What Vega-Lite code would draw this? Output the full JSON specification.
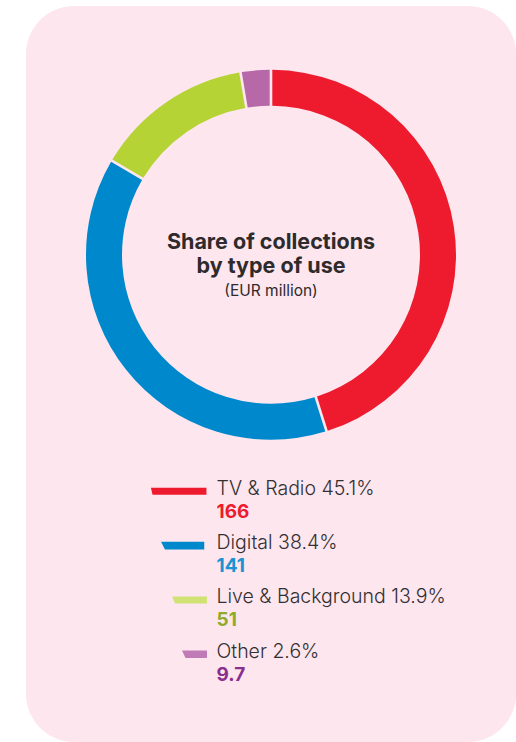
{
  "$schema": "https://vega.github.io/schema/vega-lite/v6.json",
  "width": 516,
  "height": 742,
  "autosize": {"type": "fit", "contains": "padding"},
  "padding": {"left": 26, "top": 6, "right": 0, "bottom": 0},
  "background": "white",
  "view": {"fill": "#fde6ee", "stroke": null, "cornerRadius": 48},
  "config": {"font": "Inter"},
  "datasets": {
    "shares": [
      {"use": "TV & Radio", "label": "TV & Radio 45.1%", "pct": 45.1, "eur": 166, "value": "166", "rank": 1},
      {"use": "Digital", "label": "Digital 38.4%", "pct": 38.4, "eur": 141, "value": "141", "rank": 2},
      {"use": "Live & Background", "label": "Live & Background 13.9%", "pct": 13.9, "eur": 51, "value": "51", "rank": 3},
      {"use": "Other", "label": "Other 2.6%", "pct": 2.6, "eur": 9.7, "value": "9.7", "rank": 4}
    ],
    "heading": [
      {"line1": "Share of collections", "line2": "by type of use", "unit": "(EUR million)"}
    ]
  },
  "data": {"name": "shares"},
  "resolve": {"scale": {"color": "independent"}},
  "layer": [
    {
      "mark": {"type": "arc", "outerRadius": 185, "innerRadius": 149, "padAngle": 0.011},
      "encoding": {
        "theta": {"field": "eur", "type": "quantitative", "stack": true},
        "order": {"field": "rank", "type": "quantitative"},
        "color": {
          "field": "use", "type": "nominal", "legend": null,
          "scale": {"domain": ["TV & Radio", "Digital", "Live & Background", "Other"], "range": ["#ee1b2e", "#0088cc", "#b5d334", "#b768a9"]}
        },
        "x": {"datum": 0, "type": "quantitative", "axis": null, "scale": {"domain": [-1, 1], "nice": false, "zero": false}},
        "y": {"datum": -3.42, "type": "quantitative", "axis": null, "scale": {"domain": [-8, 5.55], "reverse": true, "nice": false, "zero": false}}
      }
    },
    {
      "data": {"name": "heading"},
      "mark": {"type": "text", "align": "center", "baseline": "middle", "fontSize": 21.5, "fontWeight": "bold", "color": "#2f2a2b", "dy": -12},
      "encoding": {
        "text": {"field": "line1"},
        "x": {"datum": 0, "type": "quantitative", "axis": null, "scale": {"domain": [-1, 1], "nice": false, "zero": false}},
        "y": {"datum": -3.42, "type": "quantitative", "axis": null, "scale": {"domain": [-8, 5.55], "reverse": true, "nice": false, "zero": false}}
      }
    },
    {
      "data": {"name": "heading"},
      "mark": {"type": "text", "align": "center", "baseline": "middle", "fontSize": 21.5, "fontWeight": "bold", "color": "#2f2a2b", "dy": 12},
      "encoding": {
        "text": {"field": "line2"},
        "x": {"datum": 0, "type": "quantitative", "axis": null, "scale": {"domain": [-1, 1], "nice": false, "zero": false}},
        "y": {"datum": -3.42, "type": "quantitative", "axis": null, "scale": {"domain": [-8, 5.55], "reverse": true, "nice": false, "zero": false}}
      }
    },
    {
      "data": {"name": "heading"},
      "mark": {"type": "text", "align": "center", "baseline": "middle", "fontSize": 15.5, "fontWeight": "normal", "color": "#2f2a2b", "dy": 36},
      "encoding": {
        "text": {"field": "unit"},
        "x": {"datum": 0, "type": "quantitative", "axis": null, "scale": {"domain": [-1, 1], "nice": false, "zero": false}},
        "y": {"datum": -3.42, "type": "quantitative", "axis": null, "scale": {"domain": [-8, 5.55], "reverse": true, "nice": false, "zero": false}}
      }
    },
    {
      "mark": {"type": "point", "filled": true, "size": 3025, "opacity": 1, "strokeWidth": 0, "yOffset": -3.5},
      "encoding": {
        "shape": {
          "field": "use", "type": "nominal", "legend": null,
          "scale": {
            "domain": ["TV & Radio", "Digital", "Live & Background", "Other"],
            "range": [
              "M-2.04,-0.127L-0.02,-0.127L-0.02,0.127L-1.98,0.127Z",
              "M-1.67,-0.14L-0.1,-0.14L-0.1,0.14L-1.53,0.14Z",
              "M-1.27,-0.13L0,-0.13L0,0.13L-1.16,0.13Z",
              "M-0.91,-0.135L0,-0.135L0,0.135L-0.78,0.135Z"
            ]
          }
        },
        "color": {
          "field": "use", "type": "nominal", "legend": null,
          "scale": {"domain": ["TV & Radio", "Digital", "Live & Background", "Other"], "range": ["#ee1b2e", "#0088cc", "#cfe273", "#c07ab5"]}
        },
        "x": {"datum": -0.2612, "type": "quantitative", "axis": null, "scale": {"domain": [-1, 1], "nice": false, "zero": false}},
        "y": {"field": "rank", "type": "quantitative", "axis": null, "scale": {"domain": [-8, 5.55], "reverse": true, "nice": false, "zero": false}}
      }
    },
    {
      "mark": {"type": "text", "align": "left", "baseline": "alphabetic", "fontSize": 19.5, "fontWeight": 300, "color": "#333033"},
      "encoding": {
        "text": {"field": "label"},
        "x": {"datum": -0.2224, "type": "quantitative", "axis": null, "scale": {"domain": [-1, 1], "nice": false, "zero": false}},
        "y": {"field": "rank", "type": "quantitative", "axis": null, "scale": {"domain": [-8, 5.55], "reverse": true, "nice": false, "zero": false}}
      }
    },
    {
      "mark": {"type": "text", "align": "left", "baseline": "alphabetic", "fontSize": 19, "fontWeight": "bold", "dy": 23},
      "encoding": {
        "text": {"field": "value"},
        "color": {
          "field": "use", "type": "nominal", "legend": null,
          "scale": {"domain": ["TV & Radio", "Digital", "Live & Background", "Other"], "range": ["#ee1b2e", "#1a93d2", "#8dab2c", "#8a2f8e"]}
        },
        "x": {"datum": -0.2224, "type": "quantitative", "axis": null, "scale": {"domain": [-1, 1], "nice": false, "zero": false}},
        "y": {"field": "rank", "type": "quantitative", "axis": null, "scale": {"domain": [-8, 5.55], "reverse": true, "nice": false, "zero": false}}
      }
    }
  ]
}
